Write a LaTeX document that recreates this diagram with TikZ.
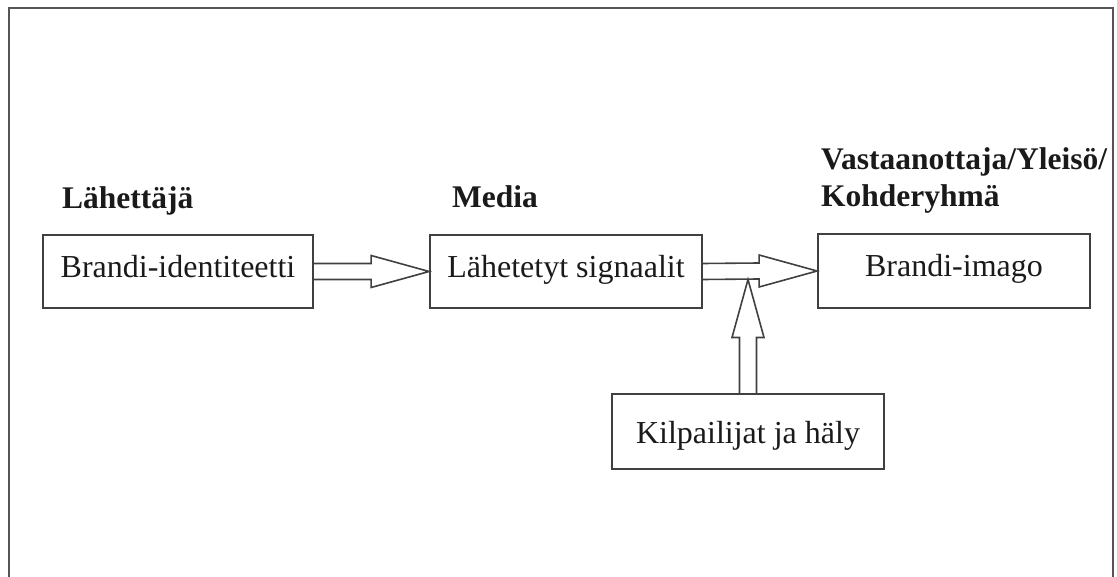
\documentclass[tikz,border=0pt]{standalone}
\usepackage{fontspec}
\setmainfont{Liberation Serif}
\usetikzlibrary{calc}
\definecolor{linecol}{HTML}{404040}
\definecolor{framecol}{HTML}{555555}
\definecolor{textcol}{HTML}{1A1A1A}
\begin{document}
\begin{tikzpicture}[x=1pt,y=-1pt,
  box/.style={draw=linecol, line width=1.8pt, minimum height=73pt, inner sep=0pt,
    text=textcol, font=\fontsize{32}{38}\selectfont, text height=22pt, text depth=10pt},
  head/.style={anchor=base west, inner sep=0pt, text=textcol, font=\fontsize{31.5}{37}\selectfont\bfseries},
  blockarrow/.style={draw=linecol, line width=1.6pt, line join=miter}]
\useasboundingbox (0,0) rectangle (1117,577);
% outer frame (open at the bottom)
\draw[framecol, line width=2.4pt] (9,577) -- (9,8) -- (1113,8) -- (1113,577);

% boxes
\node[box, minimum width=270pt] (b1) at (178,271.5) {Brandi-identiteetti};
\node[box, minimum width=272pt] (b2) at (566,271.5) {Lähetetyt signaalit};
\node[box, minimum width=272pt, minimum height=74pt] (b3) at (954,271) {Brandi-imago};
\node[box, minimum width=272pt, minimum height=75pt, text height=28pt, text depth=5pt] (b4) at (748,431.5) {Kilpailijat ja häly};

% headings
\node[head] (h1) at (62,209) {Lähettäjä};
\node[head] (h2) at (452,208) {Media};
\node[head] (h3) at (821,170) {Vastaanottaja/Yleisö/};
\node[head] (h4) at (821,207) {Kohderyhmä};

% block arrows
\draw[blockarrow] ($(b1.east)+(0,-8)$) -- ($(b2.west)+(-58,-8)$) -- ($(b2.west)+(-58,-16)$)
  -- (b2.west) -- ($(b2.west)+(-58,16)$) -- ($(b2.west)+(-58,8)$) -- ($(b1.east)+(0,8)$);
\draw[blockarrow] ($(b2.east)+(0,-8)$) -- ($(b3.west)+(-58,-8)$) -- ($(b3.west)+(-58,-16)$)
  -- (b3.west) -- ($(b3.west)+(-58,16)$) -- ($(b3.west)+(-58,8)$) -- ($(b2.east)+(0,8)$);
\coordinate (a2low) at ($(b2.east)+(0,8)$);
\coordinate (tip) at (b4.north |- a2low);
\draw[blockarrow] ($(b4.north)+(-8.5,0)$) -- ($(tip)+(-8.5,58)$) -- ($(tip)+(-16,58)$)
  -- (tip) -- ($(tip)+(16,58)$) -- ($(tip)+(8.5,58)$) -- ($(b4.north)+(8.5,0)$);
\end{tikzpicture}
\end{document}
